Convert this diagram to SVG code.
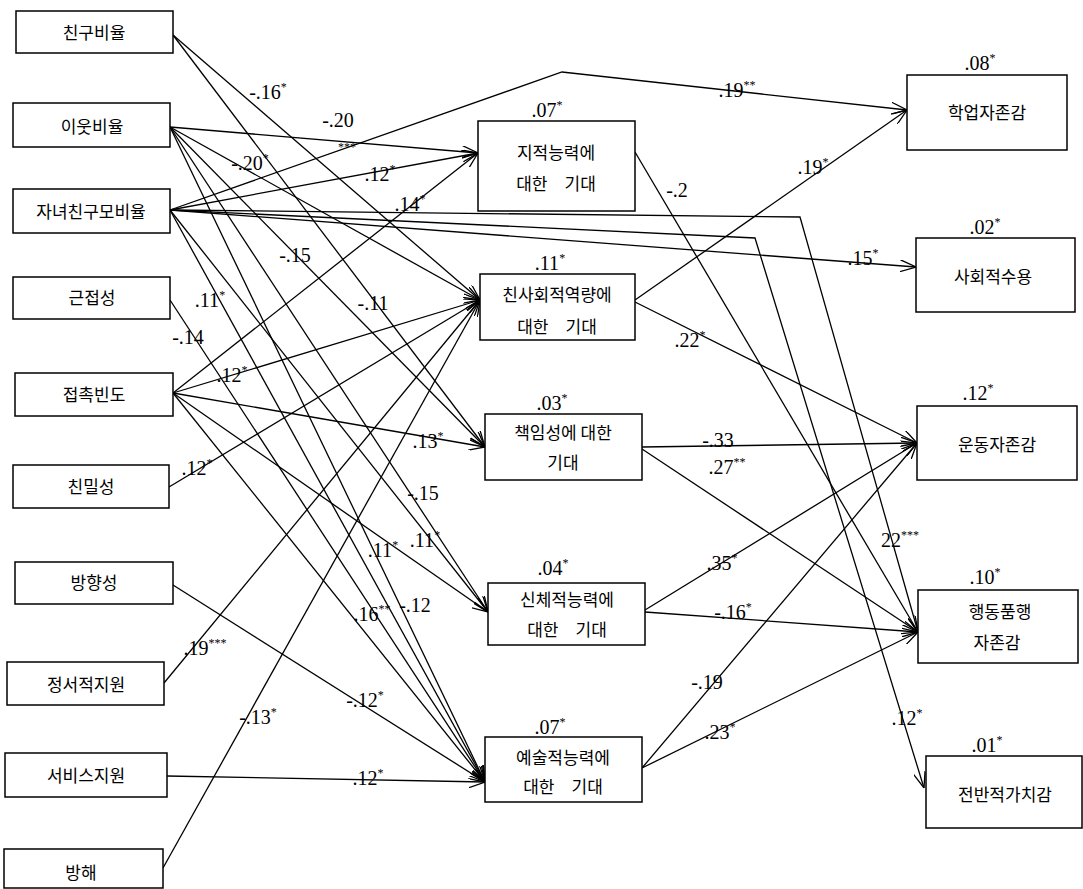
<svg xmlns="http://www.w3.org/2000/svg" width="1083" height="889" viewBox="0 0 1083 889">
<style>
.box{fill:#fff;stroke:#000;stroke-width:1.5}
.kt{font-family:"Noto Sans CJK KR","Noto Sans",sans-serif;font-size:17px;text-anchor:middle;fill:#000}
.nt{font-family:"Liberation Serif",serif;font-size:20px;text-anchor:middle;fill:#000}
.st{font-size:12px}
.c{fill:none;stroke:#000;stroke-width:1.3;marker-end:url(#ah)}
</style>
<defs>
<marker id="ah" viewBox="0 0 16 12" refX="16" refY="6" markerWidth="16" markerHeight="12" orient="auto" markerUnits="userSpaceOnUse">
<path d="M0,0 L16,6 L0,12" fill="none" stroke="#000" stroke-width="1.3"/>
</marker>
</defs>
<rect width="1083" height="889" fill="#fff"/>

<g id="connectors">
<!-- 친구비율 -->
<path class="c" d="M173,35 L480,300"/>
<path class="c" d="M173,35 L485,447"/>
<!-- 이웃비율 -->
<path class="c" d="M170,127 L478,153"/>
<path class="c" d="M170,127 L480,300"/>
<path class="c" d="M170,127 L485,447"/>
<path class="c" d="M170,127 L488,612"/>
<path class="c" d="M170,127 L485,782"/>
<!-- 자녀친구모비율 -->
<path class="c" d="M170,210 L478,153"/>
<path class="c" d="M170,210 L562,72 L907,110"/>
<path class="c" d="M170,210 L916,267"/>
<path class="c" d="M170,210 L800,217 L918,632"/>
<path class="c" d="M170,210 L755,238 L924,788"/>
<path class="c" d="M170,210 L488,612"/>
<path class="c" d="M170,210 L485,782"/>
<!-- 근접성 -->
<path class="c" d="M170,300 L485,782"/>
<!-- 접촉빈도 -->
<path class="c" d="M173,393 L478,153"/>
<path class="c" d="M173,393 L480,300"/>
<path class="c" d="M173,393 L485,447"/>
<path class="c" d="M173,393 L488,612"/>
<path class="c" d="M173,393 L485,782"/>
<!-- 친밀성 -->
<path class="c" d="M169,487 L480,300"/>
<!-- 방향성 -->
<path class="c" d="M173,585 L485,782"/>
<!-- 정서적지원 -->
<path class="c" d="M164,683 L480,300"/>
<!-- 서비스지원 -->
<path class="c" d="M167,776 L485,782"/>
<!-- 방해 -->
<path class="c" d="M163,868 L480,300"/>
<!-- middle to right -->
<path class="c" d="M635,152 L918,632"/>
<path class="c" d="M635,300 L907,110"/>
<path class="c" d="M635,302 L917,443"/>
<path class="c" d="M642,447 L917,443"/>
<path class="c" d="M642,449 L918,632"/>
<path class="c" d="M645,610 L917,443"/>
<path class="c" d="M645,612 L918,632"/>
<path class="c" d="M642,768 L917,443"/>
<path class="c" d="M642,768 L918,632"/>
</g>

<g id="n_friend"><rect class="box" x="16" y="11" width="157" height="42"/><text class="kt" x="94" y="39">친구비율</text></g>
<g id="n_neighbor"><rect class="box" x="13" y="103" width="157" height="44"/><text class="kt" x="92" y="133">이웃비율</text></g>
<g id="n_parent"><rect class="box" x="13" y="189" width="157" height="44"/><text class="kt" x="91" y="218">자녀친구모비율</text></g>
<g id="n_proximity"><rect class="box" x="13" y="277" width="157" height="42"/><text class="kt" x="92" y="304">근접성</text></g>
<g id="n_contact"><rect class="box" x="15" y="373" width="158" height="43"/><text class="kt" x="94" y="401">접촉빈도</text></g>
<g id="n_intimacy"><rect class="box" x="13" y="465" width="156" height="43"/><text class="kt" x="91" y="493">친밀성</text></g>
<g id="n_direction"><rect class="box" x="15" y="562" width="158" height="42"/><text class="kt" x="94" y="589">방향성</text></g>
<g id="n_emotional"><rect class="box" x="7" y="662" width="157" height="43"/><text class="kt" x="86" y="691">정서적지원</text></g>
<g id="n_service"><rect class="box" x="5" y="753" width="162" height="44"/><text class="kt" x="86" y="782">서비스지원</text></g>
<g id="n_hinder"><rect class="box" x="4" y="849" width="159" height="39"/><text class="kt" x="81" y="879">방해</text></g>

<g id="m_intel"><rect class="box" x="478" y="121" width="157" height="90"/><text class="kt" x="556" y="159">지적능력에</text><text class="kt" x="556" y="190">대한　기대</text><text class="nt" x="547" y="117">.07<tspan class="st" dy="-8">*</tspan></text></g>
<g id="m_social"><rect class="box" x="480" y="274" width="155" height="66"/><text class="kt" x="557" y="301">친사회적역량에</text><text class="kt" x="557" y="333">대한　기대</text><text class="nt" x="550" y="270">.11<tspan class="st" dy="-8">*</tspan></text></g>
<g id="m_resp"><rect class="box" x="485" y="414" width="157" height="66"/><text class="kt" x="563" y="439">책임성에 대한</text><text class="kt" x="563" y="469">기대</text><text class="nt" x="552" y="410">.03<tspan class="st" dy="-8">*</tspan></text></g>
<g id="m_phys"><rect class="box" x="488" y="583" width="157" height="62"/><text class="kt" x="567" y="606">신체적능력에</text><text class="kt" x="567" y="636">대한　기대</text><text class="nt" x="553" y="575">.04<tspan class="st" dy="-8">*</tspan></text></g>
<g id="m_art"><rect class="box" x="485" y="737" width="157" height="65"/><text class="kt" x="563" y="764">예술적능력에</text><text class="kt" x="563" y="793">대한　기대</text><text class="nt" x="550" y="734">.07<tspan class="st" dy="-8">*</tspan></text></g>

<g id="r_academic"><rect class="box" x="907" y="75" width="160" height="75"/><text class="kt" x="987" y="119">학업자존감</text><text class="nt" x="980" y="70">.08<tspan class="st" dy="-8">*</tspan></text></g>
<g id="r_accept"><rect class="box" x="916" y="238" width="159" height="74"/><text class="kt" x="993" y="283">사회적수용</text><text class="nt" x="985" y="234">.02<tspan class="st" dy="-8">*</tspan></text></g>
<g id="r_athletic"><rect class="box" x="917" y="406" width="160" height="74"/><text class="kt" x="997" y="451">운동자존감</text><text class="nt" x="978" y="400">.12<tspan class="st" dy="-8">*</tspan></text></g>
<g id="r_conduct"><rect class="box" x="918" y="590" width="160" height="73"/><text class="kt" x="1000" y="618">행동품행</text><text class="kt" x="997" y="649">자존감</text><text class="nt" x="985" y="584">.10<tspan class="st" dy="-8">*</tspan></text></g>
<g id="r_global"><rect class="box" x="926" y="756" width="156" height="72"/><text class="kt" x="1005" y="801">전반적가치감</text><text class="nt" x="987" y="752">.01<tspan class="st" dy="-8">*</tspan></text></g>

<g id="labels">
<text class="nt" x="268" y="99">-.16<tspan class="st" dy="-8">*</tspan></text>
<text class="nt" x="338" y="127">-.20</text>
<text class="nt st" x="347" y="151">***</text>
<text class="nt" x="250" y="170">-.20<tspan class="st" dy="-8">*</tspan></text>
<text class="nt" x="380" y="181">.12<tspan class="st" dy="-8">*</tspan></text>
<text class="nt" x="410" y="211">.14<tspan class="st" dy="-8">*</tspan></text>
<text class="nt" x="295" y="262">-.15</text>
<text class="nt" x="373" y="310">-.11</text>
<text class="nt" x="210" y="307">.11<tspan class="st" dy="-8">*</tspan></text>
<text class="nt" x="188" y="344">-.14</text>
<text class="nt" x="232" y="382">.12<tspan class="st" dy="-8">*</tspan></text>
<text class="nt" x="428" y="448">.13<tspan class="st" dy="-8">*</tspan></text>
<text class="nt" x="197" y="475">.12<tspan class="st" dy="-8">*</tspan></text>
<text class="nt" x="423" y="500">-.15</text>
<text class="nt" x="383" y="557">.11<tspan class="st" dy="-8">*</tspan></text>
<text class="nt" x="425" y="547">.11<tspan class="st" dy="-8">*</tspan></text>
<text class="nt" x="372" y="621">.16<tspan class="st" dy="-8">**</tspan></text>
<text class="nt" x="415" y="612">-.12</text>
<text class="nt" x="205" y="655">.19<tspan class="st" dy="-8">***</tspan></text>
<text class="nt" x="365" y="707">-.12<tspan class="st" dy="-8">*</tspan></text>
<text class="nt" x="258" y="724">-.13<tspan class="st" dy="-8">*</tspan></text>
<text class="nt" x="368" y="785">.12<tspan class="st" dy="-8">*</tspan></text>

<text class="nt" x="737" y="97">.19<tspan class="st" dy="-8">**</tspan></text>
<text class="nt" x="813" y="174">.19<tspan class="st" dy="-8">*</tspan></text>
<text class="nt" x="863" y="265">.15<tspan class="st" dy="-8">*</tspan></text>
<text class="nt" x="677" y="197">-.2</text>
<text class="nt" x="690" y="347">.22<tspan class="st" dy="-8">*</tspan></text>
<text class="nt" x="718" y="447">-.33</text>
<text class="nt" x="727" y="474">.27<tspan class="st" dy="-8">**</tspan></text>
<text class="nt" x="900" y="547">22<tspan class="st" dy="-8">***</tspan></text>
<text class="nt" x="722" y="570">.35<tspan class="st" dy="-8">*</tspan></text>
<text class="nt" x="733" y="619">-.16<tspan class="st" dy="-8">*</tspan></text>
<text class="nt" x="707" y="689">-.19</text>
<text class="nt" x="720" y="739">.23<tspan class="st" dy="-8">*</tspan></text>
<text class="nt" x="907" y="725">.12<tspan class="st" dy="-8">*</tspan></text>
</g>
</svg>
